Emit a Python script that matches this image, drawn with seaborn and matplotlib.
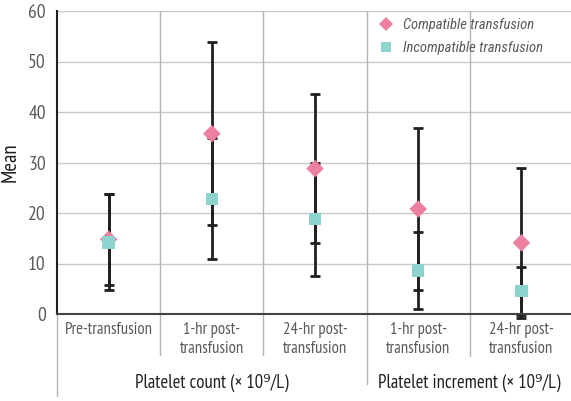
import matplotlib
matplotlib.use("Agg")
import matplotlib.pyplot as plt
import matplotlib.transforms as mtransforms
import seaborn as sns
import pandas as pd
import numpy as np

categories = ["Pre-transfusion", "1-hr post-\ntransfusion", "24-hr post-\ntransfusion",
              "1-hr post-\ntransfusion", "24-hr post-\ntransfusion"]
compatible_mean = [14.8, 35.7, 28.8, 20.8, 14.1]
compatible_err = [9.0, 18.1, 14.7, 16.1, 14.8]
incompatible_mean = [14.2, 22.8, 18.8, 8.6, 4.6]
incompatible_err = [9.5, 12.0, 11.2, 7.7, 4.7]
groups = ["Platelet count (\u00d7 10\u2079/L)", "Platelet increment (\u00d7 10\u2079/L)"]
group_spans = [(0, 3), (3, 5)]
yticks = [0, 10, 20, 30, 40, 50, 60]

pink = "#EE809F"
teal = "#8FD3CE"
ink = "#231F20"
grey = "#5a5a5a"

sns.set_style("white")
plt.rcParams["font.family"] = ["PT Sans Narrow", "DejaVu Sans"]

df = pd.DataFrame({
    "x": list(range(5)) * 2,
    "mean": compatible_mean + incompatible_mean,
    "err": compatible_err + incompatible_err,
    "group": ["Compatible transfusion"] * 5 + ["Incompatible transfusion"] * 5,
})

fig = plt.figure(figsize=(5.71, 4.01), dpi=100)
ax = fig.add_axes([57 / 571, 1 - 314 / 401, 1 - 57 / 571, 303 / 401])

# grid
for y in yticks[1:]:
    ax.axhline(y, color="#c8c8c8", lw=1, zorder=0)
trans = mtransforms.blended_transform_factory(ax.transData, ax.transAxes)
sep_depth = {0.5: -0.135, 1.5: -0.135, 2.5: -0.23, 3.5: -0.14}
for xs, d in sep_depth.items():
    ax.plot([xs, xs], [1, d], transform=trans, color="#b5b5b5", lw=1,
            clip_on=False, zorder=0)
ax.plot([-0.5, -0.5], [0, -0.27], transform=trans, color="#b5b5b5", lw=1, clip_on=False)

# error bars
for sub in [df[df.group == "Compatible transfusion"], df[df.group == "Incompatible transfusion"]]:
    ax.errorbar(sub["x"], sub["mean"], yerr=sub["err"], fmt="none", ecolor=ink,
                elinewidth=2, capsize=3.5, capthick=2, zorder=2, clip_on=False)

sns.scatterplot(data=df, x="x", y="mean", hue="group", style="group",
                palette=[pink, teal], markers=["D", "s"], s=80, linewidth=0,
                ax=ax, zorder=3, legend=True)

ax.set_xlim(-0.5, 4.48)
ax.set_ylim(0, 60)
ax.set_yticks(yticks)
ax.set_xticks(range(5))
ax.set_xticklabels(categories, fontsize=12, color=grey, linespacing=1.2)
ax.tick_params(axis="y", length=0, pad=8, labelsize=14, labelcolor=grey)
ax.tick_params(axis="x", length=0, pad=6)
ax.set_xlabel("")
ax.set_ylabel("Mean", fontsize=15, color=ink, labelpad=6)

for s in ["top", "right"]:
    ax.spines[s].set_visible(False)
ax.spines["left"].set_color(ink)
ax.spines["bottom"].set_color("#444444")
ax.spines["left"].set_linewidth(1.5)
ax.spines["bottom"].set_linewidth(1.5)

for label, (a, b) in zip(groups, group_spans):
    lo = max(a - 0.5, -0.5)
    hi = min(b - 0.5, 4.48)
    ax.text((lo + hi) / 2, -0.228, label, transform=trans, ha="center", va="center",
            fontsize=13.5, color=ink)

leg = ax.legend(loc="upper left", bbox_to_anchor=(0.6226, 0.977), frameon=False,
                borderaxespad=0, borderpad=0, handlelength=1.2,
                handletextpad=0.6, labelspacing=0.6, markerscale=0.85,
                prop={"family": ["Roboto Condensed", "DejaVu Sans"],
                      "style": "italic", "size": 10.5})
for t in leg.get_texts():
    t.set_color(grey)

fig.savefig("out.png", dpi=100)
